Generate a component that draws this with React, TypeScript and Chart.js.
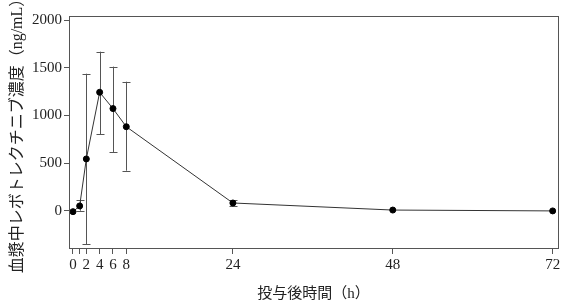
import React, { useEffect, useRef } from "react";
import { Chart, registerables } from "chart.js";

Chart.register(...registerables);

const hours = [0, 1, 2, 4, 6, 8, 24, 48, 72];
const meanConc = [-10, 50, 543, 1242, 1071, 881, 81, 7, -2];
const upperConc = [null, 109, 1437, 1668, 1511, 1353, 112, null, null];
const lowerConc = [null, 0, -350, 801, 616, 420, 49, null, null];
const xTicks = [0, 1, 2, 4, 6, 8, 24, 48, 72];
const xTickLabels = ["0", "", "2", "4", "6", "8", "24", "48", "72"];
const yTicks = [0, 500, 1000, 1500, 2000];

const FONT = "'Liberation Serif', 'DejaVu Serif', 'Noto Sans CJK JP', serif";

const errorBarPlugin = {
  id: "errorBars",
  beforeDatasetsDraw(chart: any) {
    const ctx = chart.ctx;
    const xs = chart.scales.x;
    const ys = chart.scales.y;
    ctx.save();
    ctx.strokeStyle = "#555";
    ctx.lineWidth = 1;
    hours.forEach((h, i) => {
      const u = upperConc[i];
      const l = lowerConc[i];
      if (u == null || l == null) return;
      const px = Math.round(xs.getPixelForValue(h)) + 0.5;
      const pu = ys.getPixelForValue(u);
      const pl = ys.getPixelForValue(l);
      ctx.beginPath();
      ctx.moveTo(px, pu);
      ctx.lineTo(px, pl);
      ctx.moveTo(px - 4, Math.round(pu) + 0.5);
      ctx.lineTo(px + 4, Math.round(pu) + 0.5);
      ctx.moveTo(px - 4, Math.round(pl) + 0.5);
      ctx.lineTo(px + 4, Math.round(pl) + 0.5);
      ctx.stroke();
    });
    ctx.restore();
  },
  afterDraw(chart: any) {
    const { ctx, chartArea } = chart;
    ctx.save();
    ctx.strokeStyle = "#555";
    ctx.lineWidth = 1;
    ctx.strokeRect(
      Math.round(chartArea.left) + 0.5,
      Math.round(chartArea.top) + 0.5,
      Math.round(chartArea.right - chartArea.left),
      Math.round(chartArea.bottom - chartArea.top)
    );
    ctx.restore();
  },
};

export default function App() {
  const ref = useRef<HTMLCanvasElement>(null);
  useEffect(() => {
    if (!ref.current) return;
    const chart = new Chart(ref.current, {
      type: "line",
      data: {
        datasets: [
          {
            data: hours.map((h, i) => ({ x: h, y: meanConc[i] })),
            borderColor: "#333",
            borderWidth: 1,
            backgroundColor: "#000",
            pointBackgroundColor: "#000",
            pointBorderColor: "#000",
            pointRadius: 3,
            tension: 0,
          },
        ],
      },
      options: {
        responsive: false,
        animation: false,
        layout: { padding: { top: 16, right: 5, left: 0, bottom: 0 } },
        plugins: { legend: { display: false }, tooltip: { enabled: false } },
        scales: {
          x: {
            type: "linear",
            min: -0.6,
            max: 72.8,
            afterBuildTicks: (scale: any) => {
              scale.ticks = xTicks.map((v) => ({ value: v }));
            },
            afterFit: (scale: any) => {
              scale.height = 303 - 248;
            },
            grid: {
              display: true,
              drawOnChartArea: false,
              drawTicks: true,
              tickLength: 6,
              color: "#555",
            },
            border: { display: false },
            ticks: {
              autoSkip: false,
              maxRotation: 0,
              color: "#222",
              padding: 2,
              font: { family: FONT, size: 15 },
              callback: (v: any) => {
                const i = xTicks.indexOf(Number(v));
                return i >= 0 ? xTickLabels[i] : "";
              },
            },
            title: {
              display: true,
              text: "投与後時間（h）",
              color: "#222",
              font: { family: FONT, size: 15 },
              padding: { top: 4, bottom: 0 },
            },
          },
          y: {
            min: -391,
            max: 2042,
            afterBuildTicks: (scale: any) => {
              scale.ticks = yTicks.map((v) => ({ value: v }));
            },
            afterFit: (scale: any) => {
              scale.width = 69;
            },
            grid: {
              display: true,
              drawOnChartArea: false,
              drawTicks: true,
              tickLength: 5,
              color: "#555",
            },
            border: { display: false },
            ticks: {
              color: "#222",
              padding: 2,
              font: { family: FONT, size: 15 },
              callback: (v: any) => String(v),
            },
            title: {
              display: true,
              text: "血漿中レボトレクチニブ濃度（ng/mL）",
              color: "#222",
              font: { family: FONT, size: 16 },
              padding: { top: 8, bottom: 2 },
            },
          },
        },
      },
      plugins: [errorBarPlugin],
    } as any);
    return () => chart.destroy();
  }, []);
  return (
    <div style={{ position: "fixed", left: 0, top: 0, width: 563, height: 303, background: "#fff" }}>
      <canvas ref={ref} width={563} height={303} style={{ width: 563, height: 303 }} />
    </div>
  );
}
